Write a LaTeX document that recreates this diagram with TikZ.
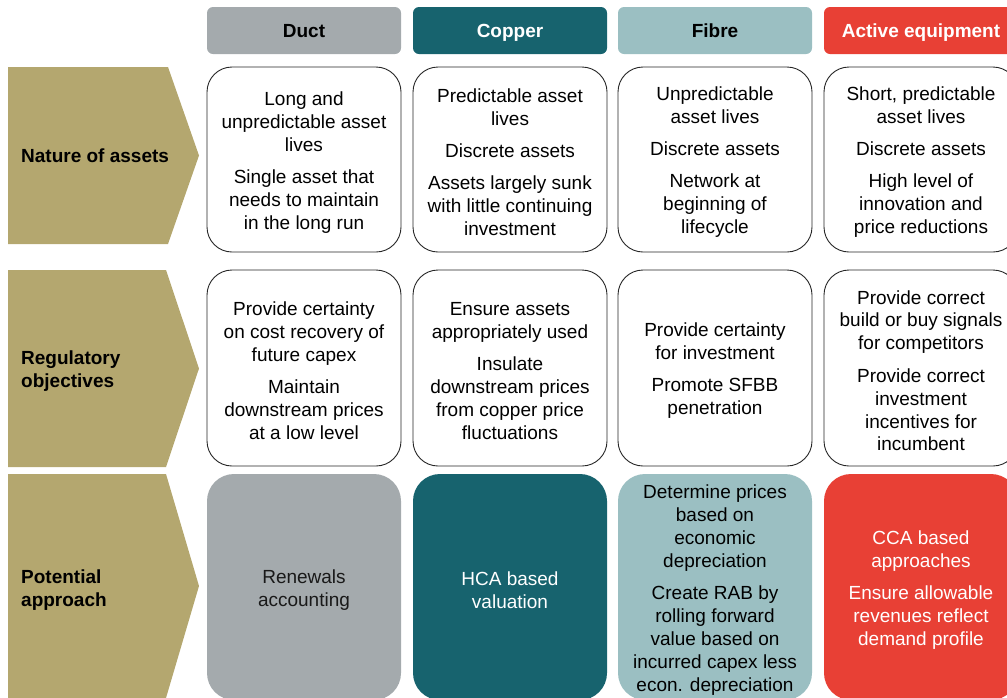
\documentclass[tikz,border=0pt]{standalone}
\usepackage{fontspec}
\setmainfont{Liberation Sans}
\definecolor{chev}{HTML}{B4A76F}
\definecolor{duct}{HTML}{A4AAAD}
\definecolor{copper}{HTML}{17636E}
\definecolor{fibre}{HTML}{9BBFC2}
\definecolor{active}{HTML}{E84035}
\begin{document}
\begin{tikzpicture}[x=1pt,y=-1pt,
  every node/.style={font=\fontsize{19}{23}\selectfont, align=center, inner sep=0pt},
  head/.style={rounded corners=6pt, minimum width=194pt, minimum height=47pt, text height=13.6pt, text depth=0pt, font=\fontsize{19}{23}\selectfont\bfseries},
  cell/.style={draw=black!85, line width=0.9pt, rounded corners=25pt, fill=white, minimum width=194pt},
  r1/.style={cell, minimum height=185pt},
  r2/.style={cell, minimum height=196pt},
  r3/.style={rounded corners=27pt, minimum width=194pt, minimum height=226pt},
  tx/.style={yshift=-2.7pt},
  chevlabel/.style={anchor=west, align=left, font=\fontsize{19}{23}\selectfont\bfseries}
]
\useasboundingbox (0,0) rectangle (1007,697);
\clip (0,0) rectangle (1007,697);

% chevrons
\fill[chev] (8,67) -- (168,67) -- (199,155.5) -- (168,244) -- (8,244) -- cycle;
\fill[chev] (8,270) -- (166,270) -- (199,368.5) -- (166,467) -- (8,467) -- cycle;
\fill[chev] (8,474) -- (166,474) -- (199,586) -- (166,698) -- (8,698) -- cycle;
\node[chevlabel] (l1) at (21,155.5) {Nature of assets};
\node[chevlabel] (l2) at (21,371) {Regulatory\\objectives};
\node[chevlabel] (l3) at (21,590) {Potential\\approach};

% headers
\node[head, fill=duct, text=black] (hd) at (304,30.5) {Duct};
\node[head, fill=copper, text=white] (hc) at (510,30.5) {Copper};
\node[head, fill=fibre, text=black] (hf) at (715,30.5) {Fibre};
\node[head, fill=active, text=white] (ha) at (921,30.5) {Active equipment};

% row 1 frames
\node[r1] (d1) at (304,159.5) {};
\node[r1] (c1) at (510,159.5) {};
\node[r1] (f1) at (715,159.5) {};
\node[r1] (a1) at (921,159.5) {};
% row 2 frames
\node[r2] (d2) at (304,368) {};
\node[r2] (c2) at (510,368) {};
\node[r2] (f2) at (715,368) {};
\node[r2] (a2) at (921,368) {};
% row 3 frames
\node[r3, fill=duct] (d3) at (304,587) {};
\node[r3, fill=copper] (c3) at (510,587) {};
\node[r3, fill=fibre] (f3) at (715,587) {};
\node[r3, fill=active] (a3) at (921,587) {};

% row 1 texts
\node[tx] (d1t) at (d1.center) {Long and\\unpredictable asset\\lives\\[9pt]Single asset that\\needs to maintain\\in the long run};
\node[tx] (c1t) at (c1.center) {Predictable asset\\lives\\[9pt]Discrete assets\\[9pt]Assets largely sunk\\with little continuing\\investment};
\node[tx] (f1t) at (f1.center) {Unpredictable\\asset lives\\[9pt]Discrete assets\\[9pt]Network at\\beginning of\\lifecycle};
\node[tx] (a1t) at (a1.center) {Short, predictable\\asset lives\\[9pt]Discrete assets\\[9pt]High level of\\innovation and\\price reductions};

% row 2 texts
\node[tx] (d2t) at (d2.center) {Provide certainty\\on cost recovery of\\future capex\\[9pt]Maintain\\downstream prices\\at a low level};
\node[tx] (c2t) at (c2.center) {Ensure assets\\appropriately used\\[9pt]Insulate\\downstream prices\\from copper price\\fluctuations};
\node[tx] (f2t) at (f2.center) {Provide certainty\\for investment\\[9pt]Promote SFBB\\penetration};
\node[tx] (a2t) at (a2.center) {Provide correct\\build or buy signals\\for competitors\\[9pt]Provide correct\\investment\\incentives for\\incumbent};

% row 3 texts
\node[tx, text=black!90] (d3t) at (d3.center) {Renewals\\accounting};
\node[tx, text=white] (c3t) at (c3.center) {HCA based\\valuation};
\node[tx, text=black] (f3t) at (f3.center) {Determine prices\\based on\\economic\\depreciation\\[9pt]Create RAB by\\rolling forward\\value based on\\incurred capex less\\econ. depreciation};
\node[tx, text=white] (a3t) at (a3.center) {CCA based\\approaches\\[9pt]Ensure allowable\\revenues reflect\\demand profile};
\end{tikzpicture}
\end{document}
